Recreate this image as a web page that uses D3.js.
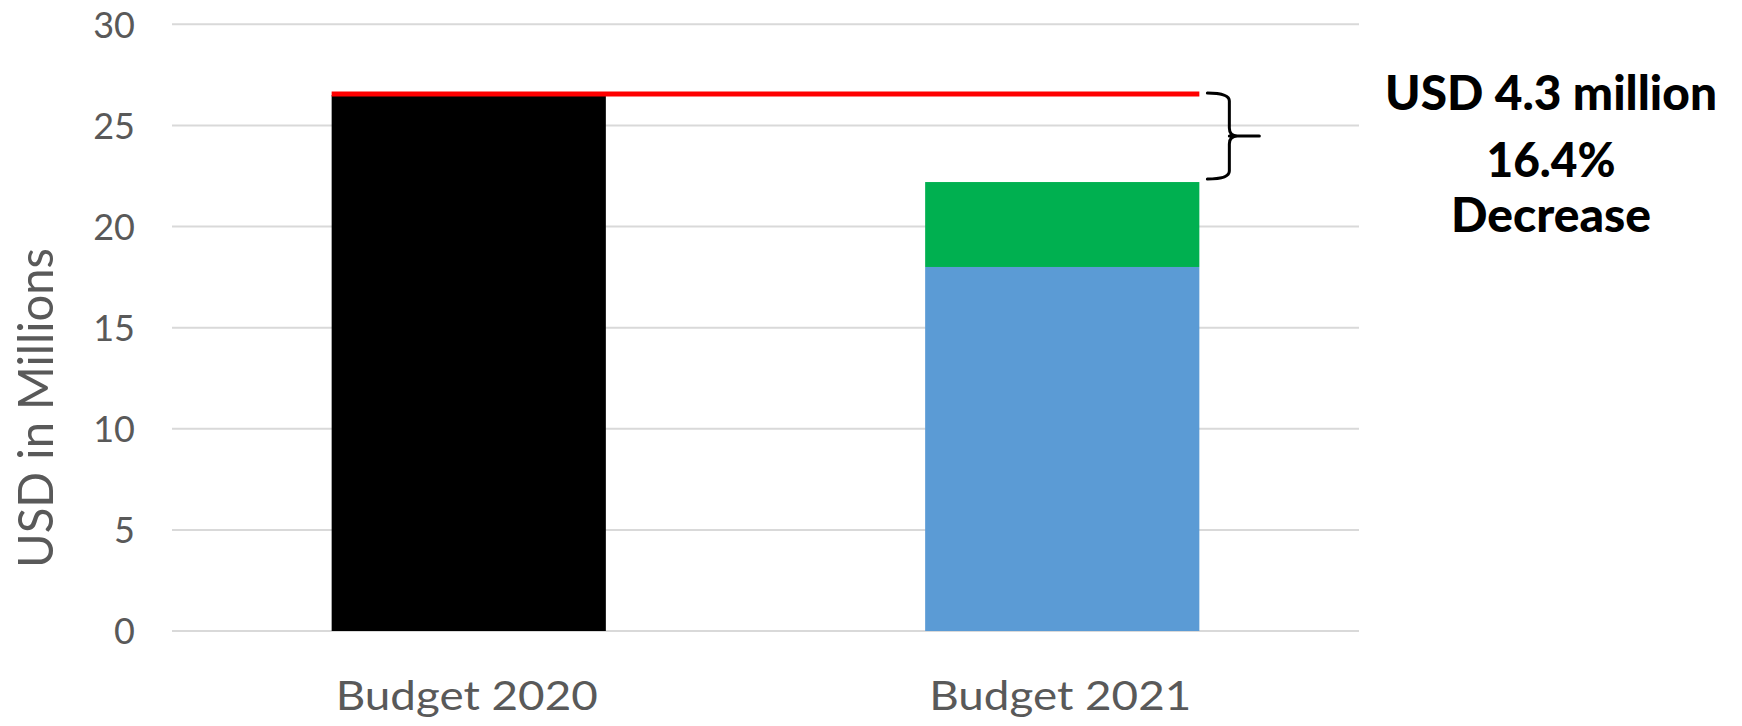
<!DOCTYPE html>
<html>
<head>
<meta charset="utf-8">
<script src="https://cdn.jsdelivr.net/npm/d3@7"></script>
<style>
  html, body { margin: 0; padding: 0; background: #ffffff; }
  svg { display: block; }
  text { font-family: Lato, "Open Sans", sans-serif; }
</style>
</head>
<body>
<svg id="chart" width="1742" height="726"></svg>
<script>
// Budget categories and stacked components (USD millions)
const categories = ["Budget 2020", "Budget 2021"];
const baseValues = [26.5, 18.0];     // black (2020) / blue (2021) segment
const extraValues = [0, 4.2];        // green top-up segment on 2021
const yTicks = [0, 5, 10, 15, 20, 25, 30];
const annotationLines = ["USD 4.3 million", "16.4%", "Decrease"];
const axisTitle = "USD in Millions";

const svg = d3.select("#chart");

const x = d3.scaleBand()
  .domain(categories)
  .range([172, 1359])
  .paddingInner(0.538)
  .paddingOuter(0.269);

const y = d3.scaleLinear().domain([0, 30]).range([631, 24.3]);

// Horizontal gridlines
svg.append("g")
  .selectAll("line")
  .data(yTicks)
  .join("line")
  .attr("x1", 172).attr("x2", 1359)
  .attr("y1", d => y(d)).attr("y2", d => y(d))
  .attr("stroke", "#d9d9d9")
  .attr("stroke-width", 2);

// Y axis tick labels
const yAxis = d3.axisLeft(y).tickValues(yTicks).tickSize(0).tickPadding(0);
const gy = svg.append("g").attr("transform", "translate(135,0)").call(yAxis);
gy.select(".domain").remove();
gy.selectAll("text")
  .attr("fill", "#595959")
  .style("font-size", "36px")
  .style("font-family", "Lato, 'Open Sans', sans-serif")
  .attr("dy", "0.36em");

// Bars: lower segment
const baseColors = ["#000000", "#5b9bd5"];
svg.append("g")
  .selectAll("rect")
  .data(categories)
  .join("rect")
  .attr("x", d => x(d))
  .attr("width", x.bandwidth())
  .attr("y", (d, i) => y(baseValues[i]))
  .attr("height", (d, i) => y(0) - y(baseValues[i]))
  .attr("fill", (d, i) => baseColors[i]);

// Bars: upper segment
svg.append("g")
  .selectAll("rect")
  .data(categories.filter((d, i) => extraValues[i] > 0))
  .join("rect")
  .attr("x", d => x(d))
  .attr("width", x.bandwidth())
  .attr("y", d => { const i = categories.indexOf(d); return y(baseValues[i] + extraValues[i]); })
  .attr("height", d => { const i = categories.indexOf(d); return y(baseValues[i]) - y(baseValues[i] + extraValues[i]); })
  .attr("fill", "#00b050");

// Reference line at the 2020 budget level
const level2020 = baseValues[0] + extraValues[0];
const total2021 = baseValues[1] + extraValues[1];
svg.append("line")
  .attr("x1", x(categories[0]))
  .attr("x2", x(categories[1]) + x.bandwidth())
  .attr("y1", y(level2020) - 1)
  .attr("y2", y(level2020) - 1)
  .attr("stroke", "#ff0000")
  .attr("stroke-width", 5);

// Curly brace spanning the decrease
const bx0 = x(categories[1]) + x.bandwidth() + 8;
const bx1 = bx0 + 22;
const bx2 = bx0 + 52;
const bTop = y(level2020) - 2;
const bBot = y(total2021) - 3;
const bMid = (bTop + bBot) / 2;
const r = 8;
const brace = d3.path();
brace.moveTo(bx0, bTop);
brace.quadraticCurveTo(bx1, bTop, bx1, bTop + r);
brace.lineTo(bx1, bMid - r);
brace.quadraticCurveTo(bx1, bMid, bx1 + r, bMid);
brace.moveTo(bx1 + r, bMid);
brace.quadraticCurveTo(bx1, bMid, bx1, bMid + r);
brace.lineTo(bx1, bBot - r);
brace.quadraticCurveTo(bx1, bBot, bx0, bBot);
brace.moveTo(bx1, bMid);
brace.lineTo(bx2, bMid);
svg.append("path")
  .attr("d", brace.toString())
  .attr("fill", "none")
  .attr("stroke", "#000")
  .attr("stroke-width", 3)
  .attr("stroke-linecap", "round");

// Annotation text
const annBaselines = [110, 177, 232];
const annWidths = [332, 129, 200];
svg.append("g")
  .selectAll("text")
  .data(annotationLines)
  .join("text")
  .attr("x", 1551)
  .attr("y", (d, i) => annBaselines[i])
  .attr("text-anchor", "middle")
  .attr("textLength", (d, i) => annWidths[i])
  .attr("lengthAdjust", "spacingAndGlyphs")
  .style("font-size", "47px")
  .style("font-weight", "900")
  .attr("fill", "#000")
  .text(d => d);

// Category labels
svg.append("g")
  .selectAll("text")
  .data(categories)
  .join("text")
  .attr("x", d => x(d) + x.bandwidth() / 2 - 2)
  .attr("y", 710)
  .attr("text-anchor", "middle")
  .attr("textLength", 262)
  .attr("lengthAdjust", "spacingAndGlyphs")
  .style("font-size", "41px")
  .attr("fill", "#595959")
  .text(d => d);

// Y axis title
svg.append("text")
  .attr("transform", "translate(53,408) rotate(-90)")
  .attr("text-anchor", "middle")
  .attr("textLength", 320)
  .attr("lengthAdjust", "spacingAndGlyphs")
  .style("font-size", "49px")
  .attr("fill", "#595959")
  .text(axisTitle);
</script>
</body>
</html>
